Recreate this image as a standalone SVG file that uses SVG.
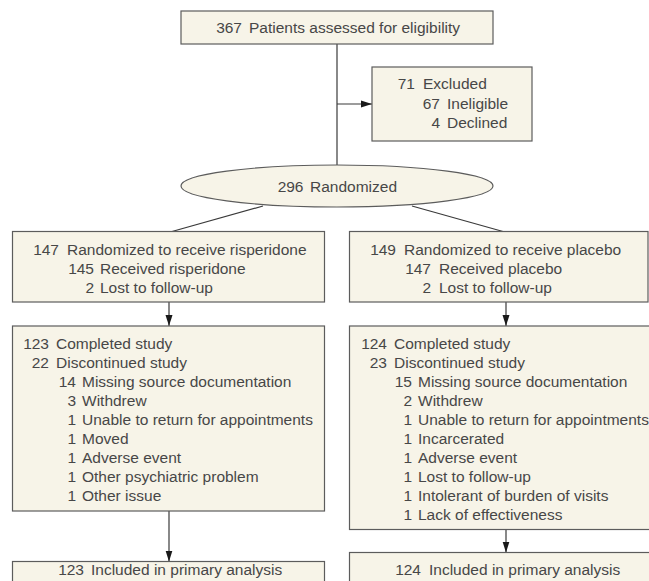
<svg xmlns="http://www.w3.org/2000/svg" width="649" height="581" viewBox="0 0 649 581">
<style>
.box{fill:#f7f4e8;stroke:#5c5c5c;stroke-width:1.2}
.t{font-family:"Liberation Sans",Arial,sans-serif;font-size:15.5px;fill:#474747}
.c{text-anchor:middle}
.e{text-anchor:end}
.ln{stroke:#3a3a3a;stroke-width:1.2;fill:none}
</style>
<defs>
<marker id="ah" markerWidth="11" markerHeight="8" refX="11" refY="4" orient="auto" markerUnits="userSpaceOnUse">
<path d="M0,0.5 L11,4 L0,7.5 Z" fill="#1a1a1a"/>
</marker>
</defs>
<rect width="649" height="581" fill="#ffffff"/>
<g id="connectors">
<line class="ln" x1="337" y1="44" x2="337" y2="165"/>
<line class="ln" x1="337" y1="104" x2="372" y2="104" marker-end="url(#ah)"/>
<line class="ln" x1="263" y1="206" x2="172" y2="231.5"/>
<line class="ln" x1="412" y1="206" x2="503" y2="231.5"/>
<line class="ln" x1="169" y1="302" x2="169" y2="326" marker-end="url(#ah)"/>
<line class="ln" x1="506" y1="302" x2="506" y2="326" marker-end="url(#ah)"/>
<line class="ln" x1="169" y1="511" x2="169" y2="561.5" marker-end="url(#ah)"/>
<line class="ln" x1="506" y1="529.5" x2="506" y2="552.5" marker-end="url(#ah)"/>
</g>
<g id="assessed">
<rect class="box" x="181" y="11" width="312" height="33"/>
<text class="t"><tspan class="e" x="242" y="33">367</tspan><tspan x="249" y="33">Patients assessed for eligibility</tspan></text>
</g>
<g id="excluded">
<rect class="box" x="372" y="67" width="160" height="74"/>
<text class="t"><tspan class="e" x="415" y="89">71</tspan><tspan x="423" y="89">Excluded</tspan></text>
<text class="t"><tspan class="e" x="440" y="109">67</tspan><tspan x="447" y="109">Ineligible</tspan></text>
<text class="t"><tspan class="e" x="440" y="128">4</tspan><tspan x="447" y="128">Declined</tspan></text>
</g>
<g id="randomized">
<ellipse class="box" cx="337" cy="186" rx="156" ry="21"/>
<text class="t"><tspan class="e" x="303.5" y="192">296</tspan><tspan x="310" y="192">Randomized</tspan></text>
</g>
<g id="risperidone">
<rect class="box" x="12.5" y="231.5" width="312" height="70.5"/>
<text class="t"><tspan class="e" x="59" y="255">147</tspan><tspan x="67" y="255">Randomized to receive risperidone</tspan></text>
<text class="t"><tspan class="e" x="94" y="274">145</tspan><tspan x="100" y="274">Received risperidone</tspan></text>
<text class="t"><tspan class="e" x="94" y="293">2</tspan><tspan x="100" y="293">Lost to follow-up</tspan></text>
</g>
<g id="placebo">
<rect class="box" x="349.5" y="231.5" width="298.5" height="70.5"/>
<text class="t"><tspan class="e" x="396" y="255">149</tspan><tspan x="404" y="255">Randomized to receive placebo</tspan></text>
<text class="t"><tspan class="e" x="431" y="274">147</tspan><tspan x="439" y="274">Received placebo</tspan></text>
<text class="t"><tspan class="e" x="431" y="293">2</tspan><tspan x="439" y="293">Lost to follow-up</tspan></text>
</g>
<g id="risperidone-completion">
<rect class="box" x="12.5" y="326" width="312" height="185"/>
<text class="t"><tspan class="e" x="49" y="349">123</tspan><tspan x="56" y="349">Completed study</tspan></text>
<text class="t"><tspan class="e" x="49" y="368">22</tspan><tspan x="56" y="368">Discontinued study</tspan></text>
<text class="t"><tspan class="e" x="76" y="387">14</tspan><tspan x="82" y="387">Missing source documentation</tspan></text>
<text class="t"><tspan class="e" x="76" y="406">3</tspan><tspan x="82" y="406">Withdrew</tspan></text>
<text class="t"><tspan class="e" x="76" y="425">1</tspan><tspan x="82" y="425">Unable to return for appointments</tspan></text>
<text class="t"><tspan class="e" x="76" y="444">1</tspan><tspan x="82" y="444">Moved</tspan></text>
<text class="t"><tspan class="e" x="76" y="463">1</tspan><tspan x="82" y="463">Adverse event</tspan></text>
<text class="t"><tspan class="e" x="76" y="482">1</tspan><tspan x="82" y="482">Other psychiatric problem</tspan></text>
<text class="t"><tspan class="e" x="76" y="501">1</tspan><tspan x="82" y="501">Other issue</tspan></text>
</g>
<g id="placebo-completion">
<rect class="box" x="349.5" y="326" width="312" height="203.5"/>
<text class="t"><tspan class="e" x="387" y="349">124</tspan><tspan x="394" y="349">Completed study</tspan></text>
<text class="t"><tspan class="e" x="387" y="368">23</tspan><tspan x="394" y="368">Discontinued study</tspan></text>
<text class="t"><tspan class="e" x="412" y="387">15</tspan><tspan x="418" y="387">Missing source documentation</tspan></text>
<text class="t"><tspan class="e" x="412" y="406">2</tspan><tspan x="418" y="406">Withdrew</tspan></text>
<text class="t"><tspan class="e" x="412" y="425">1</tspan><tspan x="418" y="425">Unable to return for appointments</tspan></text>
<text class="t"><tspan class="e" x="412" y="444">1</tspan><tspan x="418" y="444">Incarcerated</tspan></text>
<text class="t"><tspan class="e" x="412" y="463">1</tspan><tspan x="418" y="463">Adverse event</tspan></text>
<text class="t"><tspan class="e" x="412" y="482">1</tspan><tspan x="418" y="482">Lost to follow-up</tspan></text>
<text class="t"><tspan class="e" x="412" y="501">1</tspan><tspan x="418" y="501">Intolerant of burden of visits</tspan></text>
<text class="t"><tspan class="e" x="412" y="520">1</tspan><tspan x="418" y="520">Lack of effectiveness</tspan></text>
</g>
<g id="risperidone-analysis">
<rect class="box" x="12.5" y="561.5" width="312" height="30"/>
<text class="t"><tspan class="e" x="84" y="575">123</tspan><tspan x="91" y="575">Included in primary analysis</tspan></text>
</g>
<g id="placebo-analysis">
<rect class="box" x="349.5" y="552.5" width="312" height="40"/>
<text class="t"><tspan class="e" x="421" y="575">124</tspan><tspan x="429" y="575">Included in primary analysis</tspan></text>
</g>
</svg>
